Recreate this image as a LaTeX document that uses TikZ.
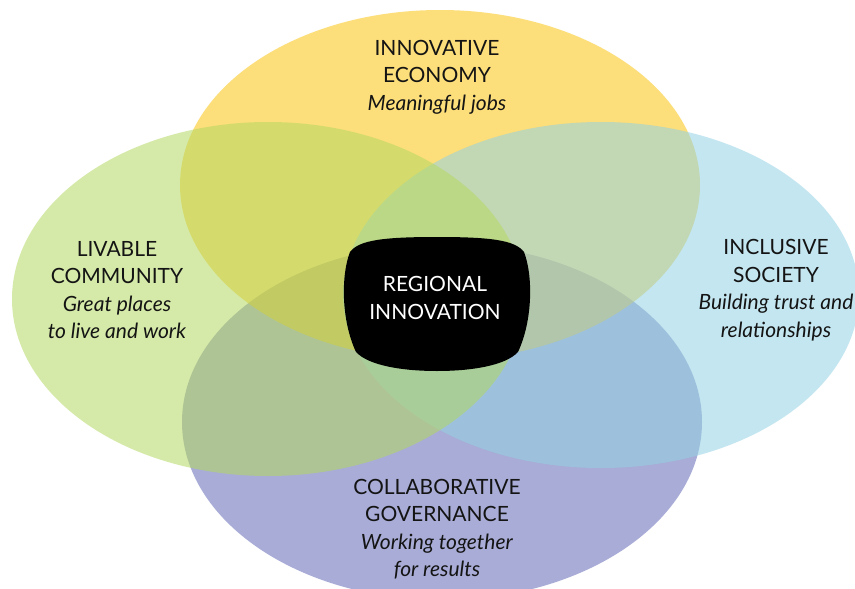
\documentclass[tikz,border=0pt]{standalone}
\usepackage{fontspec}
\setmainfont{Lato}
\usepackage{tikz}

\definecolor{econyellow}{RGB}{250,195,13}
\definecolor{livegreen}{RGB}{180,217,97}
\definecolor{socblue}{RGB}{148,210,228}
\definecolor{govpurple}{RGB}{97,104,181}
\definecolor{inktext}{RGB}{20,20,20}

\begin{document}
\begin{tikzpicture}[x=1pt,y=-1pt,
    every node/.style={align=center,text=inktext,font=\fontsize{21}{27.5}\selectfont},
    lobe/.style={fill opacity=0.55}]

    \useasboundingbox (0,0) rectangle (855,589);
    \fill[white] (0,0) rectangle (855,589);

    \fill[govpurple,lobe]  (442,422) ellipse [x radius=260, y radius=178];
    \fill[econyellow,lobe] (440,185) ellipse [x radius=260, y radius=175];
    \fill[socblue,lobe]    (601,295) ellipse [x radius=258, y radius=173];
    \fill[livegreen,lobe]  (268,299) ellipse [x radius=256, y radius=177];

    \fill[black] (437,237) .. controls (490,237) and (515,240) .. (524,252)
        .. controls (533,275) and (533,320) .. (518,352)
        .. controls (505,366) and (470,371) .. (437,371)
        .. controls (404,371) and (369,366) .. (356,352)
        .. controls (341,320) and (341,275) .. (350,252)
        .. controls (359,240) and (384,237) .. (437,237) -- cycle;

    \node          (econ)       at (437,77)  {INNOVATIVE\\ECONOMY\\\textit{Meaningful jobs}};
    \node          (community)  at (117,290) {LIVABLE\\COMMUNITY\\\textit{Great places}\\\textit{to live and work}};
    \node          (society)    at (776,290) {INCLUSIVE\\SOCIETY\\\textit{Building trust and}\\\textit{relationships}};
    \node          (governance) at (437,529) {COLLABORATIVE\\GOVERNANCE\\\textit{Working together}\\\textit{for results}};
    \node[text=white] (hub)     at (435,298) {REGIONAL\\INNOVATION};
\end{tikzpicture}
\end{document}
